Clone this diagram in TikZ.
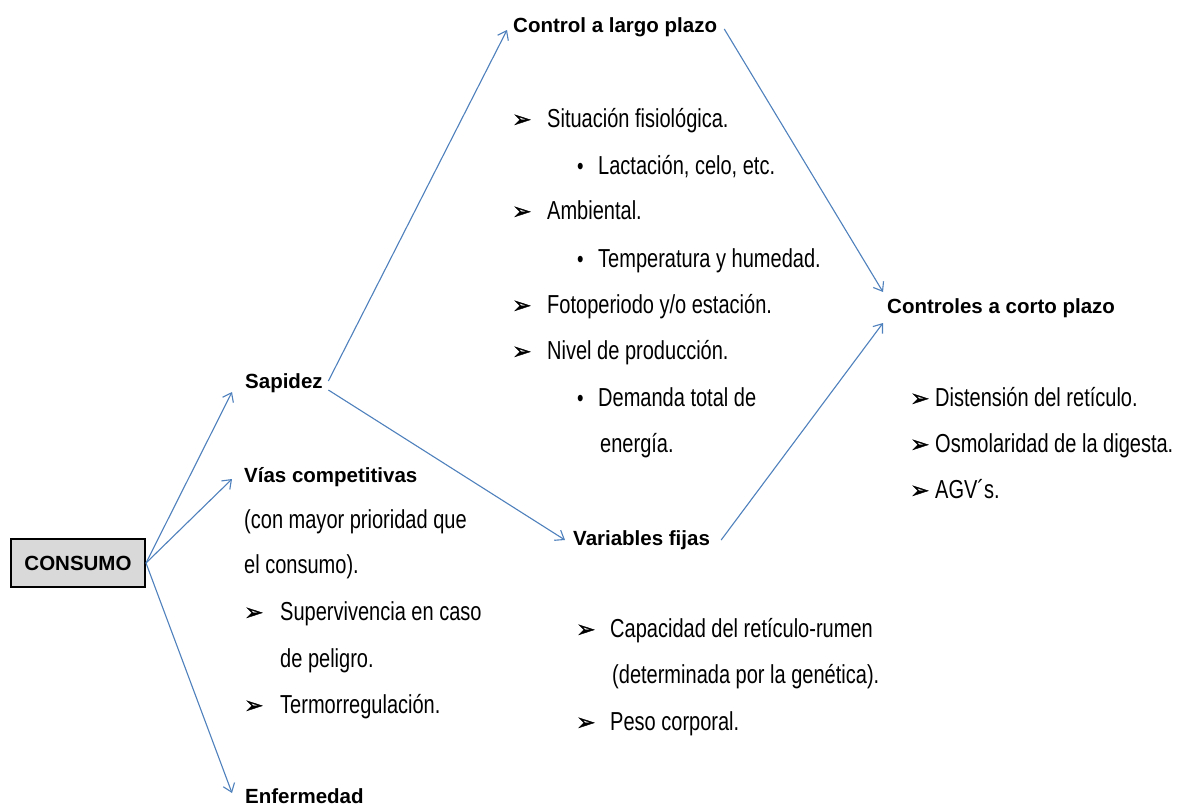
\documentclass[tikz,border=0pt]{standalone}
\usepackage{fontspec}
\setmainfont{Liberation Sans}
\newfontfamily\narrowfont[FakeStretch=0.77]{Liberation Sans}
\newfontfamily\symfont[FakeBold=1.5]{DejaVu Sans}
\usetikzlibrary{arrows.meta}
\definecolor{linkblue}{RGB}{79,129,189}
\definecolor{boxgray}{RGB}{217,217,217}
\tikzset{
  headtext/.style={anchor=base west, inner sep=0pt, font=\fontsize{20.5}{24}\selectfont\bfseries},
  listtext/.style={anchor=base west, inner sep=0pt, font=\narrowfont\fontsize{26}{30}\selectfont},
  arrowbullet/.style={anchor=base west, inner sep=0pt, font=\symfont\fontsize{23}{26}\selectfont},
  dotbullet/.style={anchor=base west, inner sep=0pt, font=\narrowfont\fontsize{24}{30}\selectfont},
  conn/.style={draw=linkblue, line width=1.1pt, -{Straight Barb[length=8pt,width=12pt,line width=1.1pt]}},
  mainbox/.style={draw=black, line width=2pt, fill=boxgray, minimum width=134pt, minimum height=48pt, inner sep=0pt, font=\fontsize{20.5}{24}\selectfont\bfseries}
}
\begin{document}
\begin{tikzpicture}[x=1pt,y=-1pt]
\useasboundingbox[fill=white] (0,0) rectangle (1178,808);

% main box
\node[mainbox] (cons) at (78,563) {CONSUMO};

% headings
\node[headtext] (ctrl)  at (513,33)  {Control a largo plazo};
\node[headtext] (sap)   at (245,388) {Sapidez};
\node[headtext] (vias)  at (244,482) {Vías competitivas};
\node[headtext] (var)   at (573,545) {Variables fijas};
\node[headtext] (corto) at (887,313) {Controles a corto plazo};
\node[headtext] (enf)   at (245,803) {Enfermedad};

% middle column
\node[arrowbullet] (ma1) at (512,127) {➢};
\node[listtext] (m1) at (547,127) {Situación fisiológica.};
\node[dotbullet] (md1) at (577,174) {•};
\node[listtext] (m2) at (598,174) {Lactación, celo, etc.};
\node[arrowbullet] (ma2) at (512,219) {➢};
\node[listtext] (m3) at (547,219) {Ambiental.};
\node[dotbullet] (md2) at (577,267) {•};
\node[listtext] (m4) at (598,267) {Temperatura y humedad.};
\node[arrowbullet] (ma3) at (512,313) {➢};
\node[listtext] (m5) at (547,313) {Fotoperiodo y/o estación.};
\node[arrowbullet] (ma4) at (512,359) {➢};
\node[listtext] (m6) at (547,359) {Nivel de producción.};
\node[dotbullet] (md3) at (577,406) {•};
\node[listtext] (m7) at (598,406) {Demanda total de};
\node[listtext] (m8) at (600,452) {energía.};

% right column
\node[arrowbullet] (ra1) at (910,406) {➢};
\node[listtext] (r1) at (935,406) {Distensión del retículo.};
\node[arrowbullet] (ra2) at (910,452) {➢};
\node[listtext] (r2) at (935,452) {Osmolaridad de la digesta.};
\node[arrowbullet] (ra3) at (910,498) {➢};
\node[listtext] (r3) at (935,498) {AGV´s.};

% left column
\node[listtext] (v1) at (244,528) {(con mayor prioridad que};
\node[listtext] (v2) at (244,573) {el consumo).};
\node[arrowbullet] (va1) at (244,620) {➢};
\node[listtext] (v3) at (280,620) {Supervivencia en caso};
\node[listtext] (v4) at (280,667) {de peligro.};
\node[arrowbullet] (va2) at (244,713) {➢};
\node[listtext] (v5) at (280,713) {Termorregulación.};

% variables fijas list
\node[arrowbullet] (fa1) at (576,637) {➢};
\node[listtext] (f1) at (610,637) {Capacidad del retículo-rumen};
\node[listtext] (f2) at (612,683) {(determinada por la genética).};
\node[arrowbullet] (fa2) at (576,730) {➢};
\node[listtext] (f3) at (610,730) {Peso corporal.};

% connectors
\draw[conn] (cons.east) -- ([xshift=-13pt,yshift=-4pt]sap.base west);
\draw[conn] (cons.east) -- ([xshift=-12pt,yshift=3pt]vias.base west);
\draw[conn] (cons.east) -- ([xshift=-13pt,yshift=10pt]enf.base west);
\draw[conn] ([xshift=5.5pt,yshift=7pt]sap.base east) -- ([xshift=-6pt,yshift=3pt]ctrl.base west);
\draw[conn] ([xshift=5.5pt,yshift=-2pt]sap.base east) -- ([xshift=-8pt,yshift=5pt]var.base west);
\draw[conn] ([xshift=7pt,yshift=4pt]ctrl.base east) -- ([xshift=-4pt,yshift=21pt]corto.base west);
\draw[conn] ([xshift=11pt,yshift=5pt]var.base east) -- ([xshift=-4pt,yshift=-10pt]corto.base west);
\end{tikzpicture}
\end{document}
